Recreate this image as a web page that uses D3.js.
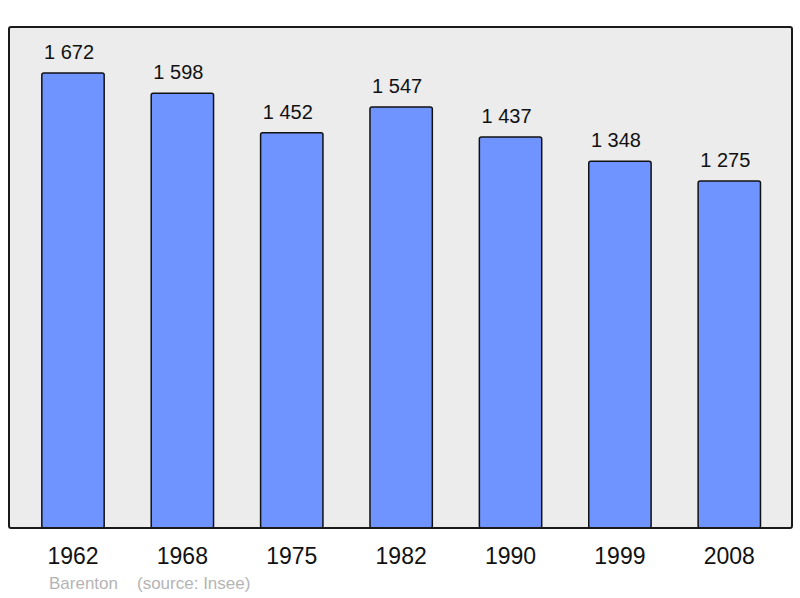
<!DOCTYPE html>
<html>
<head>
<meta charset="utf-8">
<script src="https://cdn.jsdelivr.net/npm/d3@7"></script>
<style>
  body { margin: 0; background: #fff; }
  text { font-family: "Liberation Sans", Arial, sans-serif; }
</style>
</head>
<body>
<div class="chart"></div>
<script>
const years = ["1962", "1968", "1975", "1982", "1990", "1999", "2008"];
const population = [1672, 1598, 1452, 1547, 1437, 1348, 1275];
const commune = "Barenton";
const source = "(source: Insee)";

const width = 800, height = 598;
const plot = { left: 9, right: 792, top: 27, bottom: 528 };

const svg = d3.select(".chart").append("svg")
  .attr("width", width)
  .attr("height", height);

// background frame
svg.append("rect")
  .attr("x", plot.left).attr("y", plot.top)
  .attr("width", plot.right - plot.left)
  .attr("height", plot.bottom - plot.top)
  .attr("rx", 2)
  .attr("fill", "#ececec");

const x = d3.scaleBand()
  .domain(years)
  .range([18.3, 784])
  .paddingInner(0.43)
  .paddingOuter(0.215);

const y = d3.scaleLinear()
  .domain([0, 1841])
  .range([plot.bottom, plot.top]);

const fr = d3.formatLocale({ decimal: ",", thousands: " ", grouping: [3], currency: ["", "€"] });
const fmt = fr.format(",d");

const rows = years.map((yr, i) => ({ year: yr, value: population[i] }));

svg.append("g").selectAll("rect")
  .data(rows)
  .join("rect")
  .attr("x", d => x(d.year))
  .attr("y", d => y(d.value))
  .attr("width", x.bandwidth())
  .attr("height", d => y(0) - y(d.value))
  .attr("rx", 2)
  .attr("fill", "#7094ff")
  .attr("stroke", "#111")
  .attr("stroke-width", 1.5);

// value labels sit a little left of the bar centre, as in the original
svg.append("g").selectAll("text")
  .data(rows)
  .join("text")
  .attr("x", d => x(d.year) + x.bandwidth() / 2 - 4)
  .attr("y", d => y(d.value) - 14)
  .attr("text-anchor", "middle")
  .attr("font-size", 20)
  .attr("fill", "#111")
  .text(d => fmt(d.value));

// frame border on top
svg.append("rect")
  .attr("x", plot.left).attr("y", plot.top)
  .attr("width", plot.right - plot.left)
  .attr("height", plot.bottom - plot.top)
  .attr("rx", 2)
  .attr("fill", "none")
  .attr("stroke", "#1a1a1a")
  .attr("stroke-width", 2);

svg.append("g").selectAll("text")
  .data(years)
  .join("text")
  .attr("x", d => x(d) + x.bandwidth() / 2)
  .attr("y", 564)
  .attr("text-anchor", "middle")
  .attr("font-size", 23)
  .attr("fill", "#111")
  .text(d => d);

svg.append("text")
  .attr("x", 49).attr("y", 589)
  .attr("font-size", 17)
  .attr("fill", "#b4b4b4")
  .text(commune);

svg.append("text")
  .attr("x", 137).attr("y", 589)
  .attr("font-size", 17)
  .attr("fill", "#b4b4b4")
  .text(source);
</script>
</body>
</html>
